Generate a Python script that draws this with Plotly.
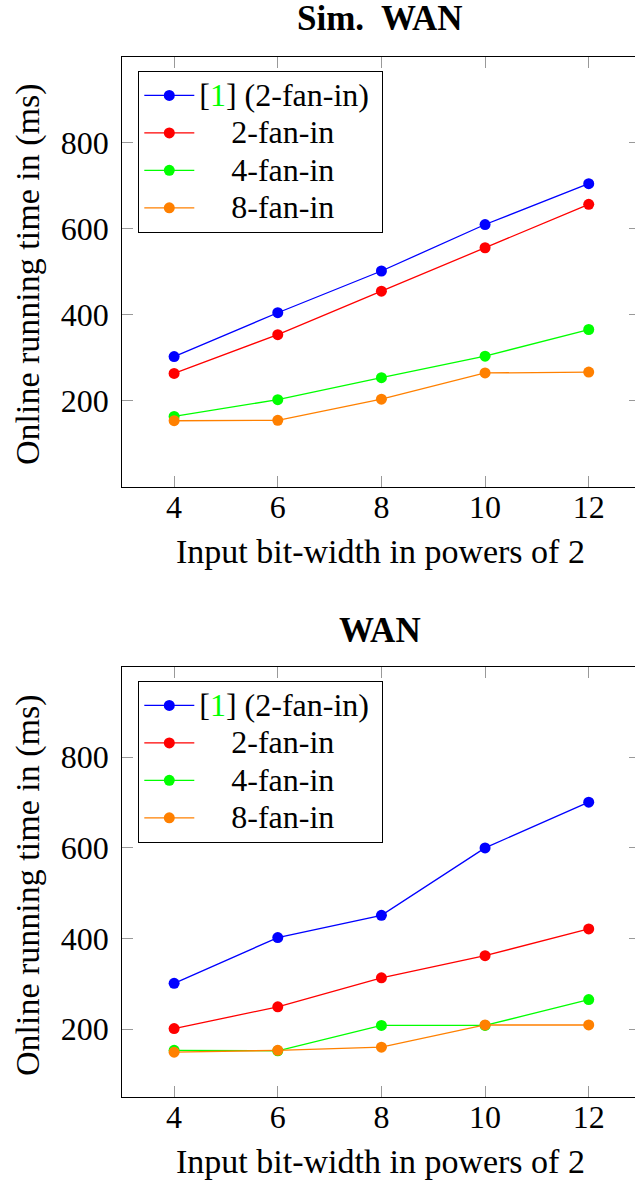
import plotly.graph_objects as go

# ---- data ----
bit_width = [4, 6, 8, 10, 12]
series_labels = ["[<span style='color:#00ff00'>1</span>] (2-fan-in)\u00a0",
                 "\u00a0\u00a0\u00a0\u00a02-fan-in",
                 "\u00a0\u00a0\u00a0\u00a04-fan-in",
                 "\u00a0\u00a0\u00a0\u00a08-fan-in"]
colors = ["#0000ff", "#ff0000", "#00ff00", "#ff8000"]

sim_ref1 = [303, 405, 502, 610, 705]
sim_fan2 = [264, 354, 455, 556, 657]
sim_fan4 = [164, 203, 254, 304, 366]
sim_fan8 = [154, 155, 204, 265, 267]

wan_ref1 = [301, 402, 451, 600, 701]
wan_fan2 = [201, 249, 313, 362, 421]
wan_fan4 = [153, 152, 208, 208, 265]
wan_fan8 = [149, 153, 160, 209, 209]

y_ticks = [200, 400, 600, 800]
titles = ["<b>Sim.\u00a0 WAN</b>", "<b>WAN</b>"]
x_title = "Input bit-width in powers of 2"
y_title = "Online running time in (ms)"

W, H = 635, 1184
FONT = "Liberation Serif"
FS = 32

fig = go.Figure()

panels = [
    dict(data=[sim_ref1, sim_fan2, sim_fan4, sim_fan8], xa="x", ya="y", leg="legend"),
    dict(data=[wan_ref1, wan_fan2, wan_fan4, wan_fan8], xa="x2", ya="y2", leg="legend2"),
]
for p in panels:
    for label, ys, c in zip(series_labels, p["data"], colors):
        fig.add_trace(go.Scatter(
            x=bit_width, y=ys,
            name="<span style='font-size:32px'>" + label + "</span>",
            mode="lines+markers",
            line=dict(color=c, width=1.3),
            marker=dict(color=c, size=11, symbol="circle"),
            xaxis=p["xa"], yaxis=p["ya"], legend=p["leg"]))

# invisible traces so the right-side tick axes exist
fig.add_trace(go.Scatter(x=[None], y=[None], xaxis="x", yaxis="y3", showlegend=False, hoverinfo="skip"))
fig.add_trace(go.Scatter(x=[None], y=[None], xaxis="x2", yaxis="y4", showlegend=False, hoverinfo="skip"))

def px_x(v):
    return v / W

def px_y(v):
    return 1 - v / H

xdom = [px_x(122.3), 1.0]
top_dom = [px_y(487.0), px_y(56.7)]
bot_dom = [px_y(1097.0), px_y(666.7)]
xrange_ = [3, 12.893]

tickfont = dict(family=FONT, size=FS, color="black")

def xaxis(anchor):
    return dict(domain=xdom, anchor=anchor, range=xrange_, tickvals=bit_width,
                ticks="inside", ticklen=11, tickwidth=1, tickcolor="#999999",
                showline=True, linecolor="black", linewidth=1.3, mirror="ticks",
                showgrid=False, zeroline=False, tickfont=tickfont, ticklabelstandoff=-9)

def yaxis(dom, rng, anchor):
    return dict(domain=dom, range=rng, tickvals=y_ticks, anchor=anchor,
                ticks="inside", ticklen=11, tickwidth=1, tickcolor="#999999",
                showline=True, linecolor="black", linewidth=1.3, mirror=False,
                showgrid=False, zeroline=False, tickfont=tickfont, ticklabelstandoff=6)

def yright(over, rng):
    return dict(overlaying=over, side="right", range=rng, tickvals=y_ticks,
                ticks="inside", ticklen=6, tickwidth=1, tickcolor="#999999",
                showline=False, showgrid=False, zeroline=False, showticklabels=False)

legend_common = dict(font=dict(family=FONT, size=26.5, color="black"),
                     bordercolor="black", borderwidth=1, bgcolor="white",
                     xanchor="left", yanchor="top", itemwidth=50,
                     tracegroupgap=0)

fig.update_layout(
    width=W, height=H, margin=dict(l=0, r=0, t=0, b=0),
    paper_bgcolor="white", plot_bgcolor="white",
    xaxis=xaxis("y"), yaxis=yaxis(top_dom, [0, 1000], "x"),
    xaxis2=xaxis("y2"), yaxis2=yaxis(bot_dom, [50, 1000], "x2"),
    yaxis3=yright("y", [0, 1000]), yaxis4=yright("y2", [50, 1000]),
    legend=dict(x=px_x(138.3), y=px_y(70.7), **legend_common),
    legend2=dict(x=px_x(138.3), y=px_y(680.7), **legend_common),
    showlegend=True,
)

ann = []
cx = px_x(380)
for title, ty, xl_y, yl_y in [(titles[0], 19, 551, 274), (titles[1], 630, 1161, 885)]:
    ann.append(dict(text=title, x=cx, y=px_y(ty), xref="paper", yref="paper",
                    showarrow=False, xanchor="center", yanchor="middle",
                    font=dict(family=FONT, size=35, color="black")))
    ann.append(dict(text=x_title, x=cx, y=px_y(xl_y), xref="paper", yref="paper",
                    showarrow=False, xanchor="center", yanchor="middle",
                    font=dict(family=FONT, size=34, color="black")))
    ann.append(dict(text=y_title, x=px_x(28), y=px_y(yl_y), xref="paper", yref="paper",
                    showarrow=False, xanchor="center", yanchor="middle", textangle=-90,
                    font=dict(family=FONT, size=34, color="black")))
fig.update_layout(annotations=ann)

fig.write_html("out.html", config={"displayModeBar": False},
               post_script="document.body.style.margin='0';")
